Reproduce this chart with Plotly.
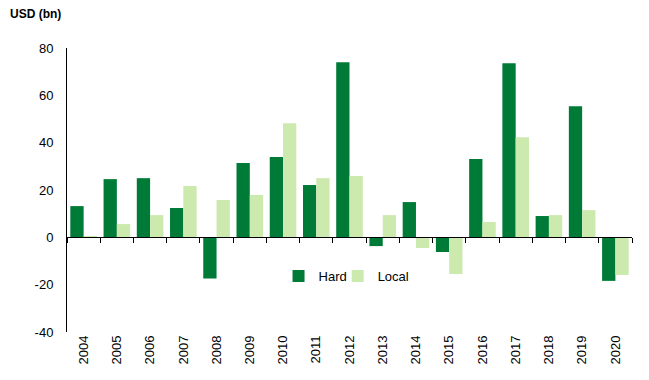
import plotly.graph_objects as go

years = [str(y) for y in range(2004, 2021)]
hard = [13.2, 24.6, 25.0, 12.4, -17.4, 31.4, 33.9, 22.1, 74.0, -3.7, 14.9, -6.2, 33.1, 73.6, 9.0, 55.4, -18.4]
local = [0.6, 5.6, 9.4, 21.7, 15.8, 17.9, 48.2, 25.0, 25.9, 9.4, -4.5, -15.5, 6.5, 42.3, 9.4, 11.5, -15.9]
y_ticks = [-40, -20, 0, 20, 40, 60, 80]
y_tick_text = [str(v) for v in y_ticks]

FONT = "Liberation Sans Narrow, Arial Narrow, Liberation Sans, Arial, sans-serif"
DARK = "#007A37"
LIGHT = "#CCE9AE"

fig = go.Figure()
fig.add_trace(go.Bar(x=years, y=hard, name="Hard", marker_color=DARK, marker_line_width=0,
                     legend="legend"))
fig.add_trace(go.Bar(x=years, y=local, name="Local", marker_color=LIGHT, marker_line_width=0,
                     legend="legend2"))
# invisible trace to carry the zero-line axis
fig.add_trace(go.Scatter(x=years, y=[0]*len(years), xaxis="x2", mode="markers",
                         marker_opacity=0, showlegend=False, hoverinfo="skip"))

cat_range = [-0.5, len(years) - 0.5]
leg_common = dict(orientation="h", y=0.197, xanchor="left", yanchor="middle",
                  bgcolor="rgba(0,0,0,0)", font=dict(size=13))

fig.update_layout(
    width=641, height=372,
    margin=dict(l=59, r=17, t=40, b=48),
    paper_bgcolor="white", plot_bgcolor="white",
    barmode="group", bargap=0.2, bargroupgap=0,
    font=dict(family=FONT, size=13, color="black"),
    xaxis=dict(type="category", range=cat_range, showline=False, ticks="", tickangle=-90,
               showgrid=False, zeroline=False, tickfont=dict(size=13), automargin=False),
    xaxis2=dict(type="category", range=cat_range, overlaying="x", anchor="free",
                position=1/3, side="bottom", showline=True, linecolor="black",
                linewidth=1, ticks="outside", tickson="boundaries", ticklen=5,
                tickcolor="black", showticklabels=False, showgrid=False, automargin=False),
    yaxis=dict(range=[-40, 80], tickvals=y_ticks, ticktext=y_tick_text, showline=True,
               linecolor="black", linewidth=1, ticks="", showgrid=False, zeroline=False,
               tickfont=dict(size=13), ticklabelstandoff=10, automargin=False),
    legend=dict(x=0.3744, **leg_common),
    legend2=dict(x=0.479, **leg_common),
    annotations=[dict(text="<b>USD (bn)</b>", xref="paper", yref="paper",
                      x=-59/565, y=1.12, xanchor="left", yanchor="middle",
                      showarrow=False, font=dict(family="Liberation Sans, Arial, sans-serif", size=12))],
)

fig.write_html("out.html")
